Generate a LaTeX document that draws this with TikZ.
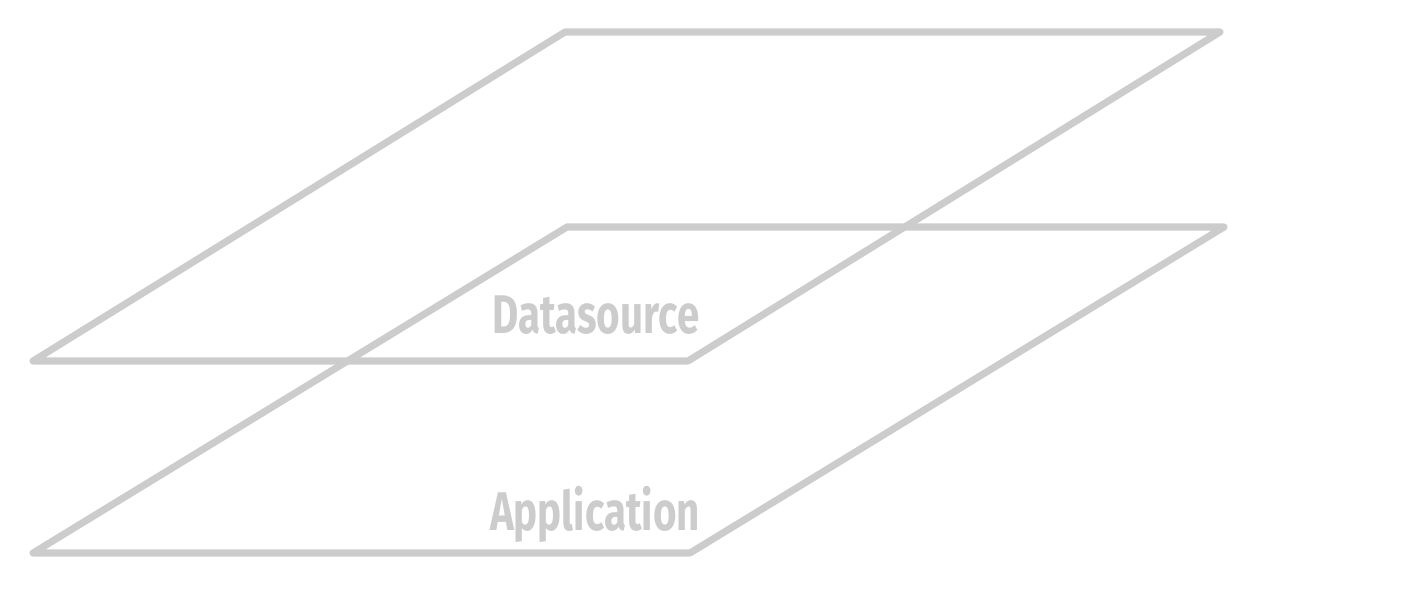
\documentclass[tikz,border=0pt]{standalone}
\usepackage{fontspec}
\setmainfont{Fira Sans}
\definecolor{planegray}{HTML}{CCCCCC}
\begin{document}
\begin{tikzpicture}[x=0.02cm,y=-0.02cm,
    plane/.style={draw=planegray,line width=4pt,line join=round,line cap=round},
    layername/.style={text=planegray,font=\bfseries\fontsize{31}{31}\selectfont,xscale=0.74,anchor=base,inner sep=0pt}]
    \useasboundingbox (0,0) rectangle (1426,588);
    \def\ds{(565,32),(1220,32),(688,361),(33,361)}
    \def\ap{(567,227),(1224,227),(690,553),(33,553)}
    %       back left  back right  front right  front left
    \foreach \p [count=\i from 1] in \ds {\path \p coordinate (d\i);}
    \foreach \p [count=\i from 1] in \ap {\path \p coordinate (a\i);}
    \draw[plane] (d1)--(d2)--(d3)--(d4)--cycle;
    \draw[plane] (a1)--(a2)--(a3)--(a4)--cycle;
    \node[layername] (dsname) at (596,333) {Datasource};
    \node[layername] (apname) at (595,530) {Application};
\end{tikzpicture}
\end{document}
